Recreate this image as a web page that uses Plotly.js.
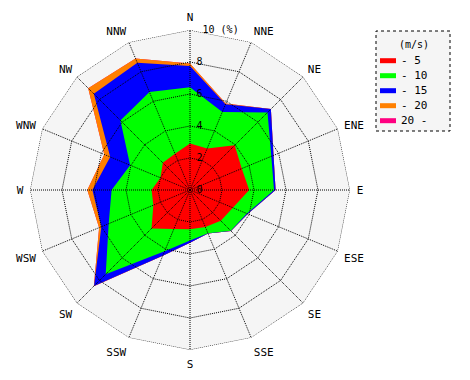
<!DOCTYPE html>
<html><head><meta charset="utf-8">
<script src="https://cdn.plot.ly/plotly-3.0.1.min.js"></script>
<style>html,body{margin:0;padding:0;background:#fff}#chart{width:470px;height:380px}</style>
</head><body><div id="chart"></div>
<script>
const directions = ['N','NNE','NE','ENE','E','ESE','SE','SSE','S','SSW','SW','WSW','W','WNW','NW','NNW'];
const speedClasses = ['- 5','- 10','- 15','- 20','20 -'];
const classColors = ['#ff0000','#00ff00','#0000ff','#ff8000','#ff0080'];
const legendTitle = '(m/s)';
// frequency (%) per speed class and direction
const freqTo5     = [2.90, 2.80, 3.95, 3.50, 3.70, 2.90, 2.72, 2.50, 2.46, 2.64, 3.40, 2.48, 2.40, 2.00, 2.40, 2.45];
const freq5to10   = [3.52, 2.48, 2.90, 2.00, 1.55, 0.95, 0.88, 0.43, 0.69, 1.51, 4.05, 3.02, 2.50, 2.05, 3.75, 4.18];
const freq10to15  = [1.33, 0.52, 0.30, 0.15, 0.10, 0.05, 0.02, 0.02, 0.15, 0.30, 1.03, 0.50, 1.20, 1.35, 2.35, 1.97];
const freq15to20  = [0.15, 0.05, 0.00, 0.00, 0.00, 0.00, 0.00, 0.00, 0.00, 0.00, 0.02, 0.15, 0.32, 0.40, 0.50, 0.30];
const freqOver20  = [0, 0, 0, 0, 0, 0, 0, 0, 0, 0, 0, 0, 0, 0, 0, 0];
const radialTicks = [0, 2, 4, 6, 8, 10];
const radialTickText = ['0', '2', '4', '6', '8', '10 (%)'];

const perClass = [freqTo5, freq5to10, freq10to15, freq15to20, freqOver20];
let running = directions.map(() => 0);
const cumulative = perClass.map(f => { running = running.map((c, i) => c + f[i]); return running.slice(); });
const thetaClosed = directions.concat([directions[0]]);

const traces = [];
for (let k = perClass.length - 1; k >= 0; k--) {
  traces.push({
    type: 'scatterpolar', mode: 'lines',
    r: cumulative[k].concat([cumulative[k][0]]), theta: thetaClosed,
    fill: 'toself', fillcolor: classColors[k],
    line: {width: 0, color: classColors[k]},
    name: speedClasses[k], showlegend: false, hoverinfo: 'skip'
  });
}
const gridLine = {color: '#000', width: 1, dash: '1px,1px'};
radialTicks.filter(v => v > 0).forEach(v => {
  traces.push({type: 'scatterpolar', mode: 'lines', r: thetaClosed.map(() => v), theta: thetaClosed,
    line: gridLine, showlegend: false, hoverinfo: 'skip'});
});
directions.forEach(d => {
  traces.push({type: 'scatterpolar', mode: 'lines', r: [0, radialTicks[radialTicks.length - 1]], theta: [d, d],
    line: gridLine, showlegend: false, hoverinfo: 'skip'});
});
traces.push({type: 'scatterpolar', mode: 'markers', r: [0], theta: ['N'],
  marker: {size: 5, color: '#000'}, showlegend: false, hoverinfo: 'skip'});

const font = 'DejaVu Sans Mono, monospace';
// labels sit to the right of the north spoke: pad them on the left with non-breaking spaces
const nb = n => '\u00a0'.repeat(n);
const radialLabels = radialTickText.map(t => nb(t.length > 1 ? 2 : 1) + t);

// legend box drawn by hand (paper coordinates, margins are zero)
const W = 470, H = 380;
const box = {x0: 376, x1: 450, y0: 31, y1: 131};
const shapes = [{
  type: 'rect', xref: 'paper', yref: 'paper',
  x0: box.x0 / W, x1: box.x1 / W, y0: 1 - box.y1 / H, y1: 1 - box.y0 / H,
  line: {color: '#000', width: 1, dash: 'dot'}, fillcolor: '#f5f5f5', layer: 'below'
}];
const annotations = [{
  xref: 'paper', yref: 'paper', x: 414 / W, y: 1 - 44 / H, text: legendTitle,
  showarrow: false, xanchor: 'center', yanchor: 'middle', font: {family: font, size: 10, color: '#000'}
}];
speedClasses.forEach((name, k) => {
  const yc = 60.7 + 15 * k;
  shapes.push({type: 'rect', xref: 'paper', yref: 'paper',
    x0: 380 / W, x1: 396 / W, y0: 1 - (yc + 2.5) / H, y1: 1 - (yc - 2.5) / H,
    line: {width: 0}, fillcolor: classColors[k], layer: 'above'});
  annotations.push({xref: 'paper', yref: 'paper', x: 399 / W, y: 1 - yc / H, text: name,
    showarrow: false, xanchor: 'left', yanchor: 'middle', font: {family: font, size: 11, color: '#000'}});
});

const layout = {
  width: W, height: H,
  margin: {l: 0, r: 0, t: 0, b: 0},
  paper_bgcolor: '#fff',
  font: {family: font, size: 11, color: '#000'},
  showlegend: false,
  shapes: shapes,
  annotations: annotations,
  polar: {
    domain: {x: [30 / W, 350 / W], y: [30 / H, 350 / H]},
    gridshape: 'linear',
    bgcolor: '#f5f5f5',
    radialaxis: {
      range: [0, 10], angle: 90, tickvals: radialTicks, ticktext: radialLabels,
      showgrid: false, showline: false, ticks: '', layer: 'above traces',
      tickangle: 90, tickfont: {family: font, size: 10, color: '#000'}
    },
    angularaxis: {
      type: 'category', categoryarray: directions, direction: 'clockwise', rotation: 90,
      showgrid: false, showline: false, ticks: 'outside', ticklen: 4, tickcolor: 'rgba(0,0,0,0)',
      tickfont: {family: font, size: 11, color: '#000'}
    }
  }
};
Plotly.newPlot('chart', traces, layout, {displayModeBar: false, staticPlot: true});
</script>
</body></html>
